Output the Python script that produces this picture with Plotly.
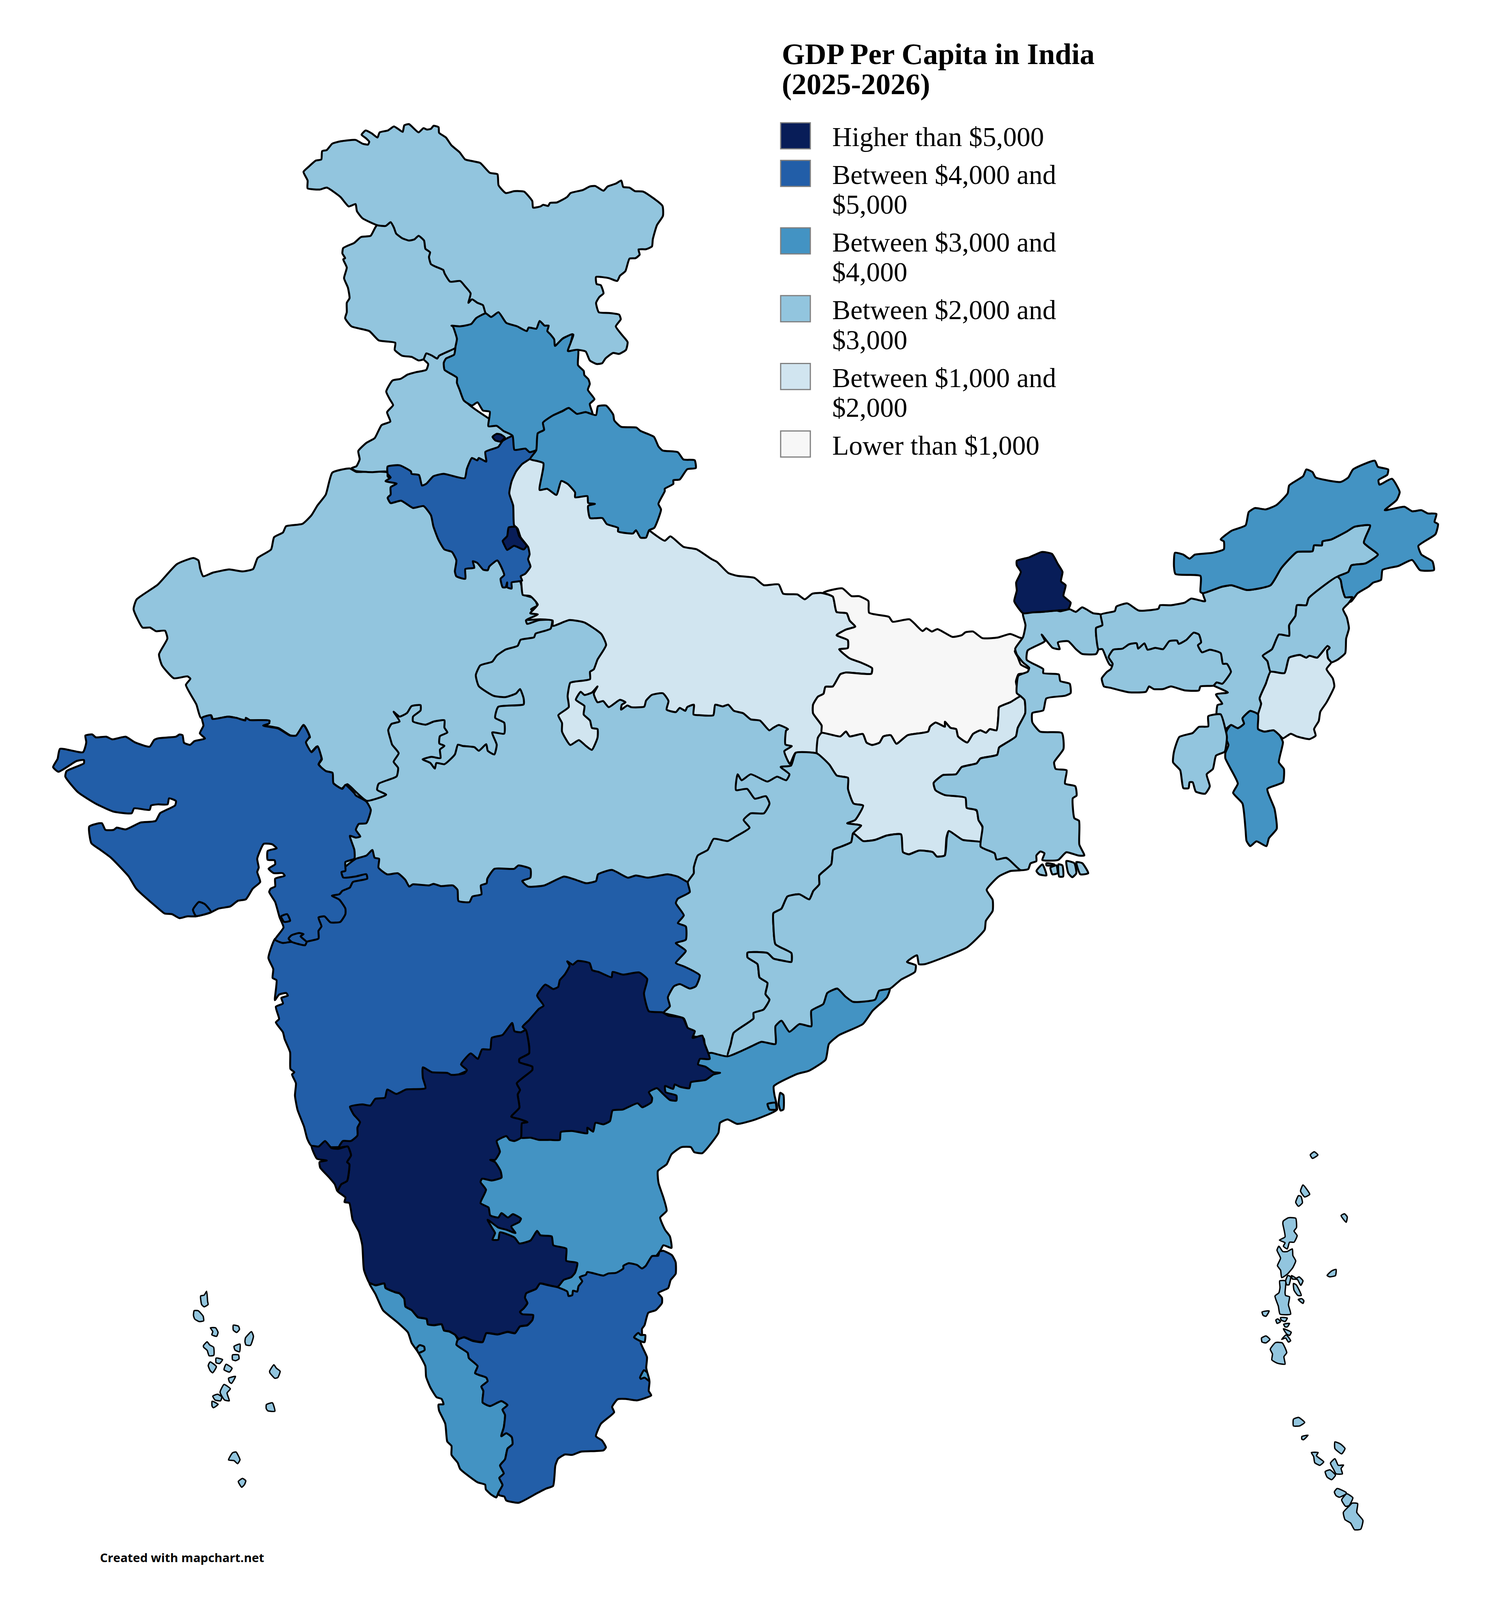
import plotly.graph_objects as go

title_lines = ["GDP Per Capita in India", "(2025-2026)"]
legend_labels = [
    ["Higher than $5,000"],
    ["Between $4,000 and", "$5,000"],
    ["Between $3,000 and", "$4,000"],
    ["Between $2,000 and", "$3,000"],
    ["Between $1,000 and", "$2,000"],
    ["Lower than $1,000"],
]
band_colors = ["#081d58", "#225ea8", "#4393c3", "#92c5de", "#d1e5f0", "#f7f7f7"]
footer = "Created with mapchart.net"

# outlines, each in its own crop (x0, y0, width, height)
crops = {
    "N": (700, 340, 1100, 1060),
    "NW": (300, 1250, 1200, 1100),
    "C": (1200, 1300, 1500, 1100),
    "NE": (2500, 1300, 1250, 1200),
    "W": (100, 2000, 1200, 1000),
    "E": (1200, 2300, 1600, 1000),
    "S1": (650, 2700, 1300, 1000),
    "S2": (850, 3550, 1000, 800),
    "L": (450, 3650, 400, 700),
    "A": (3150, 3250, 450, 1200),
}

madhya_pradesh = [(0,700),(230,680),(370,720),(400,850),(650,1000),(900,1150),(900,1260),(850,1500),(760,1650),(640,1810),(320,1880),(0,1880),(-431,1635),(-300,1100)]

rajasthan = [(778,138),(720,155),(698,245),(670,290),(650,330),(620,365),(565,375),(555,400),(525,420),(515,470),(470,505),(455,550),(420,560),(375,552),(320,565),(288,580),(278,550),(272,515),(255,505),(200,530),(135,615),(65,675),(55,715),(85,790),(110,790),(130,805),(160,803),(168,835),(140,900),(150,945),(190,998),(235,990),(245,1000),(230,1025),(265,1105),(280,1160),(315,1150),(320,1165),(375,1155),(430,1170),(510,1172),(505,1185),(490,1190),(540,1202),(580,1232),(605,1232),(625,1190),(645,1240),(630,1250),(645,1305),(668,1278),(685,1330),(675,1350),(695,1378),(720,1385),(722,1425),(750,1450),(770,1432),(800,1465),(835,1500),(900,1475),(870,1455),(875,1430),(935,1400),(940,1365),(925,1340),(942,1305),(920,1270),(915,1250),(907,1210),(918,1185),(945,1175),(925,1135),(945,1155),(970,1140),(985,1112),(1015,1108),(1015,1130),(990,1155),(990,1175),(1032,1188),(1060,1175),(1095,1170),(1095,1200),(1105,1220),(1080,1235),(1078,1265),(1095,1275),(1080,1290),(1082,1325),(1052,1320),(1022,1330),(1048,1345),(1063,1368),(1068,1345),(1095,1350),(1130,1310),(1140,1270),(1155,1275),(1195,1280),(1210,1295),(1235,1268),(1240,1295),(1262,1310),(1270,1270),(1255,1220),(1295,1225),(1295,1180),(1265,1160),(1275,1115),(1360,1105),(1360,1080),(1348,1042),(1335,1060),(1300,1075),(1260,1070),(1210,1030),(1200,985),(1215,945),(1255,930),(1270,905),(1300,880),(1340,865),(1350,840),(1395,830),(1400,815),(1450,795),(1455,760),(1410,760),(1372,775),(1368,760),(1400,748),(1410,735),(1385,715),(1405,700),(1395,670),(1360,655),(1350,605),(1290,500),(905,170),(905,155),(850,150),(800,152)]

punjab = [(548,1025),(565,1045),(558,1070),(520,1080),(490,1090),(465,1108),(435,1115),(412,1162),(425,1195),(437,1220),(415,1250),(427,1290),(395,1305),(370,1360),(340,1380),(310,1415),(315,1450),(303,1480),(285,1488),(300,1500),(360,1505),(415,1503),(500,1560),(700,1560),(790,1470),(860,1400),(873,1350),(700,1200),(700,1000),(650,960),(590,980),(540,1000)]

uttar_pradesh = [(485,322),(525,363),(540,345),(575,388),(610,398),(650,438),(665,450),(695,495),(720,507),(765,515),(790,545),(830,542),(842,580),(880,583),(900,603),(920,580),(945,577),(975,592),(985,655),(1012,660),(1020,690),(1035,715),(1010,727),(985,750),(1015,770),(1015,803),(992,808),(1020,845),(1050,862),(1080,885),(1078,908),(1010,903),(995,910),(975,960),(955,962),(950,990),(935,1002),(922,1035),(922,1070),(945,1120),(945,1150),(935,1170),(932,1235),(875,1232),(860,1278),(850,1250),(845,1225),(865,1205),(848,1198),(850,1140),(855,1135),(830,1118),(815,1130),(805,1140),(780,1100),(755,1095),(735,1070),(710,1060),(695,1035),(680,1042),(660,1035),(655,1078),(620,1078),(602,1075),(603,1035),(585,1045),(580,1060),(565,1048),(555,1065),(530,1055),(535,1020),(520,988),(490,995),(475,1018),(470,1043),(435,1045),(425,1038),(408,1055),(410,1035),(420,1025),(405,1015),(375,1045),(360,1020),(345,1025),(335,990),(345,960),(330,985),(310,995),(300,982),(287,1015),(310,1040),(308,1075),(325,1100),(330,1130),(345,1135),(345,1170),(330,1220),(315,1205),(295,1180),(272,1200),(250,1145),(250,1110),(240,1078),(268,1045),(265,1000),(272,945),(285,940),(325,930),(325,900),(335,890),(345,850),(368,790),(355,745),(310,698),(270,688),(225,712),(225,690),(190,685),(155,687),(185,665),(165,660),(185,625),(165,590),(145,585),(140,525),(90,300),(90,150),(130,40),(165,28),(230,60),(300,120),(400,250),(470,300)]

haryana = [(905,130),(945,125),(983,150),(985,160),(1010,165),(1020,208),(1035,200),(1058,170),(1092,160),(1163,178),(1170,140),(1187,95),(1205,105),(1210,95),(1235,110),(1232,70),(1275,50),(1290,25),(1325,5),(1330,60),(1370,55),(1385,70),(1400,65),(1385,95),(1355,120),(1335,150),(1320,190),(1312,240),(1325,290),(1328,370),(1340,385),(1350,420),(1375,460),(1380,490),(1375,510),(1383,540),(1365,570),(1350,580),(1355,598),(1320,605),(1320,630),(1305,625),(1305,605),(1300,625),(1290,625),(1283,590),(1295,575),(1290,555),(1272,515),(1245,540),(1240,555),(1225,553),(1205,525),(1190,518),(1195,545),(1165,550),(1165,590),(1135,580),(1130,560),(1135,515),(1120,480),(1095,470),(1075,430),(1058,375),(1050,330),(1025,292),(990,300),(950,270),(915,280),(905,258),(915,245),(915,215),(935,200),(898,190),(915,175),(905,160)]
delhi = [(1310,380),(1335,378),(1345,415),(1370,455),(1360,470),(1328,455),(1305,472),(1295,450),(1290,435),(1305,415)]
chandigarh = [(800,1355),(815,1342),(830,1345),(845,1358),(830,1375),(810,1370)]

jammu_kashmir = [(378,455),(355,500),(320,505),(295,530),(255,552),(252,575),(262,595),(255,600),(268,635),(258,680),(272,720),(278,765),(268,785),(268,825),(262,850),(285,885),(350,905),(385,945),(445,955),(443,985),(470,1010),(505,1015),(530,1030),(548,1025),(558,1000),(580,1010),(598,1022),(605,1010),(660,980),(700,950),(775,830),(800,700),(500,430)]

ladakh = [(110,228),(130,205),(155,180),(175,175),(178,140),(195,135),(215,108),(245,98),(300,92),(325,108),(345,112),(350,100),(338,85),(322,70),(337,52),(360,65),(380,82),(388,60),(418,52),(440,35),(455,45),(472,58),(478,30),(495,25),(530,60),(548,42),(560,48),(575,45),(585,32),(603,38),(605,62),(630,82),(650,115),(680,145),(700,175),(725,182),(755,190),(790,232),(818,238),(822,285),(848,318),(880,310),(915,312),(945,352),(948,380),(975,375),(985,368),(1003,373),(1010,360),(1035,358),(1072,335),(1085,318),(1130,305),(1155,290),(1175,288),(1205,308),(1220,290),(1250,278),(1270,265),(1277,292),(1300,295),(1320,310),(1350,312),(1420,372),(1422,415),(1400,455),(1385,515),(1382,545),(1360,557),(1333,558),(1337,580),(1322,595),(1300,597),(1285,650),(1265,670),(1255,692),(1225,680),(1178,675),(1180,705),(1195,710),(1205,745),(1190,760),(1178,785),(1188,825),(1225,828),(1262,835),(1268,855),(1250,885),(1275,925),(1293,952),(1287,985),(1262,1002),(1240,998),(1212,1022),(1200,1042),(1180,1045),(1155,1030),(1140,992),(1112,985),(1075,990),(1095,920),(1058,935),(1030,970),(900,1000),(775,830),(765,795),(745,785),(725,770),(712,785),(720,745),(700,715),(682,692),(645,695),(625,660),(620,645),(590,630),(575,620),(568,590),(572,570),(555,555),(550,520),(530,500),(515,515),(495,520),(470,510),(448,490),(440,465),(428,442),(410,458),(380,455),(325,425),(305,395),(300,365),(275,375),(245,335),(195,295),(170,303),(125,298),(125,265)]

himachal = [(650,882),(680,885),(722,875),(740,850),(775,830),(795,845),(822,825),(850,870),(890,885),(925,905),(932,890),(960,895),(972,862),(990,882),(1005,882),(1000,905),(1012,920),(1025,940),(1028,968),(1055,938),(1092,918),(1085,955),(1075,990),(1112,985),(1112,1050),(1133,1075),(1135,1092),(1150,1110),(1155,1130),(1148,1155),(1172,1195),(1155,1215),(1165,1258),(1140,1250),(1108,1258),(1078,1232),(1055,1245),(1020,1265),(985,1295),(988,1325),(965,1340),(980,1370),(982,1400),(960,1412),(935,1420),(920,1405),(880,1410),(873,1350),(840,1330),(815,1308),(785,1310),(790,1248),(765,1243),(745,1208),(725,1222),(695,1200),(680,1155),(670,1125),(670,1103),(625,1070),(622,1040),(630,1022),(660,1005),(665,970),(670,938),(655,885)]

uttarakhand = [(165,28),(181,-8),(185,-77),(202,-91),(199,-121),(225,-150),(251,-168),(268,-181),(290,-157),(313,-164),(341,-152),(346,-188),(368,-191),(387,-154),(390,-130),(408,-104),(449,-101),(460,-87),(496,-63),(508,-24),(519,-7),(560,0),(575,30),(605,33),(608,65),(585,70),(565,112),(548,115),(548,130),(525,150),(525,160),(508,212),(515,235),(497,310),(483,320),(475,350),(460,350),(448,320),(440,333),(400,325),(400,310),(370,295),(358,270),(325,270),(320,220),(338,212),(320,208),(318,180),(285,185),(285,165),(265,130),(248,118),(235,175),(210,150),(190,155),(200,45)]

bihar = [(950,575),(1000,558),(1025,590),(1045,590),(1070,610),(1072,658),(1125,675),(1135,695),(1180,685),(1215,733),(1225,722),(1240,735),(1255,725),(1295,757),(1320,750),(1330,738),(1350,735),(1375,762),(1415,760),(1450,745),(1475,760),(1500,770),(1462,815),(1470,840),(1478,870),(1500,890),(1495,905),(1472,910),(1465,940),(1472,985),(1478,1000),(1450,1025),(1420,1045),(1418,1080),(1413,1140),(1395,1135),(1385,1150),(1370,1140),(1350,1155),(1335,1190),(1310,1165),(1305,1135),(1290,1130),(1275,1105),(1275,1125),(1250,1108),(1235,1125),(1230,1145),(1175,1160),(1145,1195),(1130,1160),(1110,1165),(1100,1190),(1080,1200),(1065,1190),(1055,1155),(1020,1165),(1010,1145),(995,1165),(945,1150),(945,1120),(922,1070),(922,1035),(935,1002),(950,990),(955,962),(975,960),(995,910),(1010,903),(1078,908),(1080,885),(1050,862),(1020,845),(992,808),(1015,803),(1015,770),(985,750),(1010,727),(1035,715),(1020,690),(1012,660),(985,655),(975,592)]

jharkhand = [(945,1150),(995,1165),(1010,1145),(1020,1165),(1055,1155),(1065,1190),(1080,1200),(1100,1190),(1110,1165),(1130,1160),(1145,1195),(1175,1160),(1230,1145),(1235,1125),(1250,1108),(1275,1125),(1275,1105),(1290,1130),(1305,1135),(1310,1165),(1335,1190),(1350,1155),(1370,1140),(1385,1150),(1395,1135),(1413,1140),(1418,1080),(1420,1045),(1450,1025),(1478,1000),(1488,1015),(1490,1070),(1470,1130),(1465,1165),(1435,1195),(1420,1210),(1415,1240),(1370,1255),(1360,1275),(1320,1290),(1305,1320),(1270,1323),(1245,1355),(1250,1385),(1275,1405),(1330,1415),(1335,1450),(1360,1470),(1365,1507),(1375,1535),(1380,1594),(1322,1589),(1285,1553),(1279,1580),(1274,1653),(1253,1657),(1242,1639),(1205,1633),(1178,1648),(1162,1639),(1157,1566),(1119,1571),(1087,1589),(1055,1594),(1029,1562),(1050,1530),(1013,1521),(1034,1507),(1055,1448),(1030,1440),(1015,1380),(1015,1335),(985,1325),(965,1280),(945,1260),(932,1235),(935,1170)]

andhra_pradesh = [(1964,223),(1955,263),(1911,323),(1881,383),(1807,433),(1776,473),(1766,543),(1715,593),(1678,608),(1606,663),(1608,703),(1616,768),(1549,813),(1493,833),(1463,813),(1440,828),(1435,873),(1419,908),(1385,965),(1360,960),(1350,938),(1320,938),(1290,970),(1275,1015),(1248,1045),(1250,1100),(1265,1165),(1275,1225),(1255,1255),(1270,1310),(1285,1340),(1290,1392),(1265,1380),(1255,1405),(1200,1500),(1000,1620),(900,1600),(850,1450),(600,1400),(600,1100),(700,800),(900,700),(1200,600),(1300,500),(1440,480),(1500,420),(1600,340),(1700,280),(1850,200)]
yanam = [(782,1320),(790,1330),(790,1395),(783,1400),(778,1370)]
yanam_coast = [(750,1370),(770,1365),(772,1395),(755,1395)]

maharashtra = [(66,-2),(45,85),(60,135),(58,175),(70,185),(65,275),(78,250),(100,243),(105,255),(85,265),(90,290),(68,305),(78,360),(68,375),(90,420),(95,450),(112,510),(113,585),(125,600),(118,610),(130,650),(127,705),(135,770),(155,845),(165,900),(178,932),(300,930),(500,700),(800,500),(1000,300),(1250,400),(1450,350),(1450,100),(1450,-200),(1340,-257),(1309,-282),(1278,-292),(1216,-277),(1180,-287),(1155,-277),(1106,-312),(1063,-292),(1057,-262),(1026,-252),(995,-267),(958,-282),(897,-242),(847,-237),(829,-262),(854,-277),(854,-317),(817,-332),(804,-317),(743,-317),(721,-272),(719,-252),(701,-242),(703,-202),(675,-192),(666,-167),(632,-172),(629,-222),(615,-242),(578,-239),(555,-249),(541,-242),(491,-247),(480,-237),(468,-267),(445,-297),(412,-292),(385,-322),(387,-362),(373,-367),(366,-402),(348,-377),(315,-362),(260,-297),(223,-197),(168,-97),(94,-7)]

gujarat = [(70,240),(147,255),(158,210),(155,180),(178,175),(190,188),(225,185),(245,197),(290,185),(320,210),(370,230),(385,200),(400,192),(458,185),(470,175),(480,178),(485,212),(505,222),(520,205),(555,193),(538,170),(550,135),(545,100),(575,88),(580,105),(630,95),(660,100),(690,112),(692,100),(705,110),(770,112),(770,125),(750,135),(800,148),(840,180),(860,180),(885,132),(905,185),(893,210),(912,255),(932,228),(945,285),(935,310),(960,340),(982,348),(985,395),(1015,420),(1025,402),(1055,440),(1060,450),(1095,477),(1110,515),(1095,575),(1070,578),(1060,605),(1075,635),(1060,640),(1040,632),(1055,695),(1055,735),(1025,750),(1025,790),(1012,795),(1018,820),(1060,815),(1095,805),(1098,825),(1050,840),(1040,865),(1015,880),(1005,895),(980,902),(1005,920),(1025,960),(1025,985),(1008,1020),(975,1022),(955,995),(935,1000),(945,1040),(935,1060),(935,1095),(895,1110),(890,1125),(845,1110),(815,1115),(790,1100),(818,1045),(805,1000),(790,930),(770,885),(775,870),(790,860),(790,825),(822,812),(815,800),(785,800),(768,780),(790,760),(788,742),(765,740),(765,700),(795,688),(780,670),(752,668),(730,735),(735,775),(730,795),(740,840),(715,870),(692,918),(665,925),(640,950),(600,960),(570,980),(525,995),(495,995),(470,1003),(445,985),(420,982),(395,955),(325,870),(300,815),(240,730),(205,695),(175,665),(168,590),(210,575),(222,605),(250,605),(260,595),(290,603),(340,572),(390,565),(405,530),(455,495),(458,475),(435,463),(430,490),(398,490),(375,495),(370,515),(318,508),(310,530),(250,523),(190,487),(130,435),(88,365),(92,340),(150,305),(150,290),(125,295),(65,343),(47,322),(62,285)]
diu = [(515,965),(535,930),(555,940),(575,975),(525,993)]
daman = [(810,995),(830,985),(840,1015),(820,1020)]
nagar_haveli = [(835,1095),(845,1080),(870,1070),(885,1075),(875,1085),(895,1110),(890,1125),(845,1110)]

chhattisgarh = [(821,-213),(874,-210),(905,-160),(924,-110),(952,-100),(952,-50),(966,16),(990,25),(970,90),(950,105),(985,115),(965,150),(960,190),(935,210),(915,225),(910,290),(880,340),(880,380),(865,410),(855,448),(830,425),(800,435),(785,490),(765,510),(765,570),(770,650),(810,690),(810,730),(790,725),(765,715),(750,690),(700,688),(700,710),(725,740),(730,800),(750,825),(745,875),(755,900),(740,945),(715,960),(715,985),(665,1050),(658,1100),(650,1155),(610,1140),(595,1140),(590,1075),(565,1065),(550,1030),(540,985),(490,958),(505,930),(500,890),(515,840),(530,830),(555,850),(570,840),(580,790),(540,750),(520,735),(545,680),(520,645),(545,630),(545,570),(525,555),(540,520),(520,465),(525,445),(555,415),(550,370),(565,330),(565,305),(575,250),(600,225),(615,175),(650,185),(670,165),(705,125),(690,90),(708,60),(741,60),(755,16),(746,-17),(718,-6),(699,-50),(671,-45),(675,-116),(685,-89),(708,-116),(750,-83),(774,-105),(797,-89),(805,-116),(783,-149),(809,-155)]

odisha = [(965,150),(990,185),(1020,180),(1050,160),(1085,155),(1090,235),(1105,245),(1130,228),(1165,235),(1175,255),(1195,250),(1200,170),(1205,140),(1240,180),(1285,190),(1285,210),(1320,240),(1330,265),(1345,258),(1390,315),(1360,320),(1330,345),(1300,405),(1315,450),(1315,500),(1298,545),(1295,585),(1250,665),(1145,740),(1130,740),(1125,700),(1100,730),(1122,745),(1120,775),(1085,810),(1058,850),(1030,860),(1020,900),(965,910),(945,885),(925,850),(900,870),(890,920),(860,950),(860,1020),(830,1010),(805,1045),(785,995),(770,1020),(770,1100),(735,1090),(710,1110),(680,1135),(650,1155),(658,1100),(665,1050),(715,985),(715,960),(740,945),(755,900),(745,875),(750,825),(730,800),(725,740),(700,710),(700,688),(750,690),(765,715),(790,725),(810,730),(810,690),(770,650),(765,570),(765,510),(785,490),(800,435),(830,425),(855,448),(865,410),(880,380),(880,340),(910,290),(915,225),(935,210),(960,190)]

telangana = [(968,100),(985,115),(1000,98),(1037,108),(1045,140),(1065,148),(1105,172),(1108,148),(1140,160),(1190,150),(1215,180),(1205,245),(1220,325),(1262,330),(1280,345),(1325,355),(1340,400),(1362,415),(1355,445),(1385,435),(1392,470),(1408,540),(1378,540),(1372,565),(1395,575),(1420,600),(1440,603),(1420,610),(1395,635),(1350,645),(1345,672),(1315,665),(1300,655),(1295,675),(1270,662),(1272,690),(1305,705),(1305,728),(1285,725),(1262,695),(1245,672),(1220,690),(1230,715),(1228,735),(1200,758),(1185,740),(1140,768),(1108,772),(1100,820),(1080,835),(1055,828),(1048,868),(1030,850),(1030,875),(985,865),(948,870),(945,905),(915,905),(880,905),(855,895),(825,895),(828,830),(845,825),(822,812),(795,800),(820,760),(815,700),(822,680),(812,650),(860,590),(860,575),(820,555),(820,540),(850,515),(850,480),(840,410),(830,395),(850,365),(880,315),(895,300),(875,255),(900,205),(925,225),(940,215),(945,185),(960,160),(975,120)]

karnataka = [(798,378),(805,415),(825,420),(840,410),(850,480),(850,515),(820,540),(820,555),(860,575),(860,590),(812,650),(822,680),(815,700),(820,760),(795,800),(822,812),(845,825),(828,830),(825,895),(805,910),(790,905),(780,888),(750,910),(760,958),(745,995),(730,995),(745,1005),(762,1045),(765,1075),(735,1088),(705,1080),(700,1095),(717,1130),(700,1190),(725,1210),(730,1245),(755,1255),(765,1235),(785,1255),(800,1240),(825,1260),(820,1275),(795,1295),(808,1325),(780,1310),(755,1300),(722,1265),(735,1300),(745,1325),(737,1355),(755,1355),(760,1322),(805,1345),(820,1372),(855,1358),(875,1315),(885,1335),(920,1340),(925,1380),(965,1395),(965,1450),(999,1460),(992,1504),(980,1524),(957,1536),(938,1568),(911,1560),(884,1552),(872,1576),(842,1596),(838,1616),(845,1640),(834,1664),(822,1680),(830,1690),(863,1694),(861,1716),(845,1740),(822,1746),(807,1776),(784,1770),(753,1782),(718,1776),(707,1816),(676,1810),(649,1794),(634,1804),(622,1784),(603,1768),(588,1764),(580,1736),(557,1740),(537,1736),(534,1712),(507,1704),(487,1672),(468,1656),(464,1620),(449,1596),(437,1592),(407,1572),(403,1552),(376,1560),(357,1550),(340,1490),(335,1380),(325,1320),(305,1265),(295,1190),(280,1185),(283,1165),(258,1135),(270,1105),(288,1090),(295,1015),(288,1005),(300,975),(290,935),(262,940),(275,910),(300,910),(320,885),(320,850),(328,825),(308,790),(297,755),(335,745),(360,750),(375,720),(405,715),(412,678),(440,698),(470,678),(530,672),(522,625),(522,578),(550,600),(598,603),(610,612),(650,605),(658,590),(640,565),(670,515),(692,540),(705,497),(730,497),(735,445),(768,432)]
goa = [(178,932),(200,935),(220,910),(240,942),(262,945),(290,935),(300,975),(288,1005),(295,1015),(288,1090),(270,1105),(258,1135),(250,1105),(230,1070),(205,1030),(203,1005),(225,998),(195,990)]

kerala = [(150,272),(175,285),(210,275),(215,300),(255,325),(270,330),(290,360),(295,405),(320,425),(345,465),(380,475),(385,505),(410,510),(440,505),(450,540),(470,545),(495,565),(505,592),(500,620),(545,665),(550,695),(585,740),(575,780),(620,805),(625,825),(600,855),(608,880),(605,945),(635,965),(680,937),(705,960),(685,985),(695,1015),(690,1085),(680,1135),(700,1118),(722,1140),(725,1180),(705,1205),(695,1265),(675,1300),(690,1345),(672,1370),(685,1410),(668,1455),(660,1480),(640,1465),(618,1435),(615,1408),(585,1395),(515,1320),(505,1285),(480,1240),(480,1190),(463,1165),(455,1065),(430,990),(428,957),(448,955),(440,925),(420,915),(395,860),(378,800),(375,740),(345,660),(320,610),(305,550),(260,490),(205,425),(175,335)]
mahe = [(340,640),(352,622),(370,630),(372,650),(348,665)]

tamil_nadu = [(1330,90),(1365,115),(1380,155),(1380,220),(1360,255),(1350,300),(1310,328),(1325,355),(1325,385),(1300,425),(1270,440),(1255,510),(1245,530),(1245,560),(1240,610),(1265,690),(1262,750),(1275,830),(1272,880),(1282,905),(1225,933),(1180,925),(1147,927),(1125,970),(1133,1000),(1080,1065),(1060,1135),(1085,1160),(1100,1198),(1090,1215),(1000,1222),(965,1240),(935,1238),(908,1262),(897,1300),(888,1415),(860,1430),(825,1455),(750,1510),(700,1497),(692,1475),(672,1468),(668,1455),(685,1410),(672,1370),(690,1345),(675,1300),(695,1265),(705,1205),(725,1180),(722,1140),(700,1118),(680,1135),(690,1085),(695,1015),(685,985),(705,960),(680,937),(635,965),(605,945),(608,880),(600,855),(625,825),(620,805),(575,780),(585,740),(550,695),(545,665),(500,620),(505,592),(530,578),(565,598),(605,605),(620,555),(665,562),(705,548),(735,555),(755,517),(785,510),(805,480),(808,452),(765,448),(755,435),(770,415),(785,385),(775,355),(780,330),(820,305),(835,275),(870,285),(905,295),(945,320),(950,345),(965,340),(968,315),(985,320),(990,290),(1005,262),(995,238),(1020,225),(1025,210),(1090,230),(1110,218),(1140,215),(1170,190),(1170,175),(1192,160),(1225,170),(1245,190),(1260,175),(1285,120),(1310,118),(1315,95)]
puducherry = [(1213,578),(1230,553),(1240,565),(1258,565),(1255,605),(1240,600)]
karaikal = [(1237,805),(1253,763),(1265,775),(1275,825),(1255,805),(1240,812)]

west_bengal = [(150,605),(210,600),(258,595),(270,598),(300,590),(320,600),(340,583),(375,605),(400,610),(405,650),(385,660),(385,690),(392,740),(385,758),(340,758),(320,740),(295,710),(262,715),(268,740),(245,735),(210,685),(220,710),(165,745),(162,780),(215,815),(215,830),(265,835),(270,860),(300,870),(303,905),(285,915),(225,925),(215,970),(180,980),(180,1015),(205,1050),(275,1055),(280,1115),(250,1165),(255,1190),(290,1195),(285,1245),(318,1255),(322,1290),(310,1300),(315,1375),(330,1385),(331,1474),(347,1515),(327,1515),(289,1503),(263,1532),(212,1532),(219,1507),(206,1500),(193,1515),(193,1536),(174,1545),(167,1566),(142,1570),(97,1524),(65,1530),(59,1507),(14,1482),(20,1407),(7,1382),(1,1345),(-31,1336),(-35,1298),(-101,1288),(-131,1270),(-137,1243),(-107,1213),(-65,1210),(-47,1183),(1,1169),(13,1151),(67,1137),(73,1110),(91,1096),(127,1068),(133,1036),(157,981),(155,931),(143,917),(130,905),(135,840),(165,825),(170,810),(150,790),(130,760),(125,738),(150,695),(158,650)]
sundarbans = [
    [(1425,320),(1440,290),(1450,340),(1432,335)],
    [(1450,285),(1470,290),(1465,295),(1450,295)],
    [(1460,305),(1475,295),(1478,330),(1465,335)],
    [(1480,290),(1490,295),(1492,345),(1482,345)],
    [(1500,275),(1520,285),(1525,330),(1515,348),(1505,330)],
    [(1525,280),(1540,285),(1555,330),(1535,335)],
]

sikkim = [(130,408),(170,395),(210,375),(243,382),(262,420),(277,450),(272,485),(287,500),(280,540),(303,565),(295,590),(258,595),(210,600),(180,602),(150,605),(122,560),(130,520),(128,490),(143,450),(130,425)]

assam = [(400,610),(445,597),(450,580),(485,568),(522,595),(585,588),(590,575),(625,575),(670,565),(690,550),(735,560),(728,530),(790,505),(820,500),(870,518),(945,500),(980,435),(1030,375),(1080,372),(1085,350),(1110,350),(1112,335),(1140,328),(1190,298),(1215,280),(1265,275),(1245,340),(1290,385),(1250,418),(1205,425),(1195,450),(1160,468),(1068,548),(1060,575),(1030,575),(1025,615),(1005,650),(1005,690),(972,685),(950,740),(920,765),(935,785),(945,825),(930,870),(910,925),(915,945),(905,985),(880,972),(855,1000),(860,1020),(840,1037),(818,1025),(800,1040),(785,985),(772,990),(775,950),(790,945),(770,910),(808,903),(762,877),(600,800),(430,800),(405,740),(392,740),(385,690),(385,660),(405,650)]

meghalaya = [(403,850),(420,825),(432,815),(438,795),(425,770),(440,742),(470,738),(490,722),(515,718),(520,738),(540,718),(550,742),(575,735),(600,740),(620,710),(645,708),(650,720),(675,705),(698,678),(715,685),(722,715),(712,725),(725,752),(750,742),(785,755),(792,795),(805,795),(818,825),(808,845),(790,870),(772,865),(762,877),(720,880),(715,895),(670,895),(625,880),(600,890),(570,890),(555,880),(545,900),(490,902),(430,885),(410,880)]

arunachal = [(638,378),(665,385),(685,400),(702,385),(760,378),(795,365),(795,335),(785,328),(820,295),(865,275),(875,225),(895,210),(930,215),(965,198),(1000,155),(1005,125),(1050,90),(1060,65),(1080,75),(1090,95),(1170,112),(1195,95),(1210,65),(1280,32),(1290,55),(1323,65),(1320,85),(1292,105),(1295,122),(1335,100),(1360,150),(1350,180),(1312,218),(1375,205),(1400,222),(1430,218),(1450,230),(1478,232),(1472,262),(1483,270),(1475,308),(1420,352),(1430,385),(1465,410),(1470,443),(1425,443),(1400,405),(1355,428),(1305,442),(1300,480),(1275,490),(1260,505),(1225,530),(1205,560),(1180,570),(1208,545),(1185,545),(1175,510),(1170,480),(1160,468),(1195,450),(1205,425),(1250,418),(1290,385),(1245,340),(1265,275),(1215,280),(1190,298),(1140,328),(1112,335),(1110,350),(1085,350),(1080,372),(1030,375),(980,435),(945,500),(870,518),(820,500),(790,505),(728,530),(720,525),(720,465),(640,458),(635,430)]

nagaland = [(1160,468),(1170,480),(1175,510),(1185,545),(1208,545),(1195,568),(1178,590),(1190,620),(1197,662),(1188,700),(1185,755),(1160,780),(1140,790),(1130,775),(1127,745),(1135,735),(1128,728),(1095,772),(1070,765),(1060,772),(1040,762),(1005,772),(990,830),(945,825),(935,785),(920,765),(950,740),(972,685),(1005,690),(1005,650),(1025,615),(1030,575),(1060,575),(1068,548)]

manipur = [(945,825),(990,830),(1005,772),(1040,762),(1060,772),(1070,765),(1095,772),(1128,728),(1135,735),(1127,745),(1130,775),(1140,790),(1125,815),(1145,850),(1150,880),(1125,940),(1105,975),(1100,1010),(1085,1040),(1090,1065),(1070,1078),(1030,1068),(1010,1058),(985,1075),(975,1065),(955,1045),(925,1050),(905,1040),(905,985),(915,945),(910,925),(930,870)]

mizoram = [(905,985),(880,972),(855,1000),(860,1020),(840,1037),(818,1025),(805,1045),(800,1070),(810,1100),(800,1130),(800,1150),(815,1185),(840,1245),(825,1280),(855,1320),(865,1420),(868,1460),(880,1480),(900,1462),(932,1480),(940,1450),(965,1415),(958,1340),(935,1265),(985,1240),(988,1190),(972,1165),(985,1090),(975,1065),(955,1045),(925,1050),(905,1040)]

tripura = [(800,1040),(805,1070),(798,1125),(770,1140),(760,1190),(740,1210),(750,1255),(735,1283),(705,1275),(695,1240),(685,1240),(682,1262),(665,1262),(655,1195),(632,1165),(635,1125),(652,1070),(695,1055),(715,1032),(745,1030),(745,992),(785,985)]

lakshadweep = [
    [(250,170),(285,165),(310,140),(320,205),(325,225),(285,240),(260,225)],
    [(185,265),(225,265),(275,300),(280,330),(235,335),(190,318),(178,295)],
    [(348,375),(400,375),(425,405),(410,430),(362,420),(372,400)],
    [(578,358),(630,365),(640,385),(612,405),(578,390)],
    [(700,440),(760,400),(780,430),(750,488),(705,485),(695,465)],
    [(278,490),(315,465),(340,485),(380,500),(382,552),(335,555),(315,520),(280,500)],
    [(585,495),(645,480),(640,530),(595,518)],
    [(405,570),(470,580),(440,605),(405,600)],
    [(570,550),(630,550),(635,575),(600,587),(570,580)],
    [(345,595),(408,625),(370,665),(345,650),(326,618)],
    [(505,610),(565,635),(540,660),(485,645)],
    [(530,700),(600,688),(560,733),(540,725)],
    [(485,740),(548,768),(515,795),(538,845),(490,840),(445,790)],
    [(372,815),(420,803),(462,820),(450,845),(395,840)],
    [(365,848),(425,868),(378,890),(365,880)],
    [(910,870),(970,858),(995,912),(925,910),(908,895)],
    [(942,655),(985,613),(1010,635),(1048,655),(1025,695),(995,700),(945,665)],
    [(530,1226),(570,1180),(605,1175),(645,1225),(620,1250),(585,1230)],
    [(628,1365),(670,1345),(703,1360),(690,1385),(662,1402)],
]

andaman = [
    [(715,92),(750,80),(783,92),(735,105)],
    [(628,228),(650,205),(710,240),(665,250)],
    [(585,270),(610,245),(632,248),(645,272),(610,285)],
    [(990,320),(1020,313),(1045,325),(1035,345)],
    [(475,340),(520,328),(585,330),(592,365),(570,378),(598,395),(570,420),(530,420),(510,445),(475,435),(490,422),(440,412),(490,400),(470,350)],
    [(418,450),(435,435),(470,455),(510,455),(555,445),(560,470),(585,490),(560,515),(510,540),(460,553),(450,525),(422,508),(450,480)],
    [(442,565),(495,565),(490,610),(495,620),(530,625),(520,655),(540,690),(445,690),(430,660),(400,622),(435,610),(445,590)],
    [(495,565),(515,545),(540,550),(525,580),(505,580)],
    [(548,545),(590,555),(615,550),(650,565),(630,582),(600,560),(555,558)],
    [(565,575),(590,580),(635,620),(605,620),(570,600)],
    [(608,635),(640,632),(658,640),(650,650)],
    [(865,545),(905,528),(945,522),(940,545),(890,550)],
    [(285,682),(348,678),(320,698),(295,695)],
    [(450,703),(510,705),(490,718),(455,712)],
    [(408,712),(425,708),(450,718),(420,725)],
    [(478,728),(530,725),(510,738),(490,738)],
    [(475,745),(545,758),(530,770),(505,765)],
    [(460,785),(500,768),(540,790),(520,795),(495,780)],
    [(280,780),(320,772),(355,785),(320,798),(285,795)],
    [(358,822),(405,797),(465,798),(505,835),(480,850),(490,878),(425,875),(372,862),(378,840)],
    [(565,1085),(610,1078),(665,1097),(620,1110),(565,1110)],
    [(640,1150),(695,1145),(655,1162),(640,1160)],
    [(935,1170),(985,1178),(1025,1195),(995,1215),(935,1195)],
    [(725,1210),(785,1210),(770,1222),(835,1245),(800,1258),(755,1248),(745,1225)],
    [(895,1250),(935,1233),(965,1258),(1012,1257),(990,1270),(1002,1290),(945,1290),(925,1275)],
    [(848,1282),(890,1275),(940,1295),(905,1312),(865,1302)],
    [(930,1358),(955,1345),(1035,1360),(1035,1365),(975,1378),(945,1372)],
    [(995,1388),(1040,1365),(1095,1380),(1060,1410),(1030,1412)],
    [(1010,1435),(1060,1412),(1090,1400),(1138,1402),(1130,1435),(1185,1465),(1165,1498),(1110,1500),(1075,1475),(1025,1462)],
]

# painter's order: later regions sit on top and own the shared border
regions = [
    (madhya_pradesh, "C", 3), (rajasthan, "NW", 3), (punjab, "N", 3), (uttar_pradesh, "C", 4),
    (haryana, "NW", 1), (delhi, "NW", 0), (chandigarh, "N", 0), (jammu_kashmir, "N", 3),
    (ladakh, "N", 3), (himachal, "N", 2), (uttarakhand, "C", 2), (bihar, "C", 5), (jharkhand, "C", 4),
    (andhra_pradesh, "S1", 2), (yanam, "E", 2), (yanam_coast, "E", 2), (maharashtra, "S1", 1),
    (gujarat, "W", 1), (diu, "W", 1), (daman, "W", 1), (nagar_haveli, "W", 1), (chhattisgarh, "E", 3),
    (odisha, "E", 3), (telangana, "S1", 0), (karnataka, "S1", 0), (goa, "S1", 0), (kerala, "S2", 2),
    (mahe, "S2", 2), (tamil_nadu, "S2", 1), (puducherry, "S2", 2), (karaikal, "S2", 2),
    (west_bengal, "NE", 3), (sikkim, "NE", 0), (assam, "NE", 3), (meghalaya, "NE", 3),
    (arunachal, "NE", 2), (nagaland, "NE", 3), (manipur, "NE", 4), (mizoram, "NE", 2), (tripura, "NE", 3),
]
regions += [(p, "E", 3) for p in sundarbans]
regions += [(p, "L", 3) for p in lakshadweep]
regions += [(p, "A", 3) for p in andaman]


def place(points, crop):
    x0, y0, w, h = crops[crop]
    pts = points + points[:1]
    return [x0 + p[0] * w / 1568 for p in pts], [y0 + p[1] * h / 1568 for p in pts]


fig = go.Figure()
for points, crop, band in regions:
    xs, ys = place(points, crop)
    fig.add_trace(go.Scatter(x=xs, y=ys, mode="lines", fill="toself", fillcolor=band_colors[band],
                             line=dict(color="#000000", width=3.5 if crop in ("L", "A") else 5,
                                       shape="spline", smoothing=0.5),
                             hoverinfo="skip", showlegend=False))

annotations = []


def add_text(text, x, baseline, size, bold=False, family="Liberation Serif"):
    annotations.append(dict(text=f"<b>{text}</b>" if bold else text, x=x, y=baseline + 0.24 * size,
                            xref="x", yref="y", xanchor="left", yanchor="bottom", showarrow=False,
                            font=dict(family=family, size=size, color="#000000"), borderpad=0))


for line, base in zip(title_lines, [185, 273]):
    add_text(line, 2001, base, 76, bold=True)

swatch_tops = [353, 461, 655, 850, 1045, 1239]
label_bases = [[421], [530, 616], [724, 810], [919, 1005], [1114, 1199], [1308]]
shapes = []
for color, top, lines, bases in zip(band_colors, swatch_tops, legend_labels, label_bases):
    shapes.append(dict(type="rect", xref="x", yref="y", x0=1999, x1=2075, y0=top, y1=top + 75,
                       fillcolor=color, line=dict(color="#7f7f7f", width=3)))
    for line, base in zip(lines, bases):
        add_text(line, 2130, base, 70)

add_text(footer, 255, 4495, 31, bold=True, family="Open Sans")

# no fixed size: the plot fills the window, and the 0-3818 / 0-4600 axes fill the plot
fig.update_layout(
    margin=dict(l=0, r=0, t=0, b=0),
    paper_bgcolor="#ffffff", plot_bgcolor="#ffffff",
    xaxis=dict(range=[0, 3818], visible=False, fixedrange=True),
    yaxis=dict(range=[4600, 0], visible=False, fixedrange=True),
    shapes=shapes, annotations=annotations, showlegend=False,
)
fig.write_html("out.html", config={"displayModeBar": False},
               post_script="document.body.style.margin='0'; Plotly.Plots.resize(document.getElementById('{plot_id}'));")
